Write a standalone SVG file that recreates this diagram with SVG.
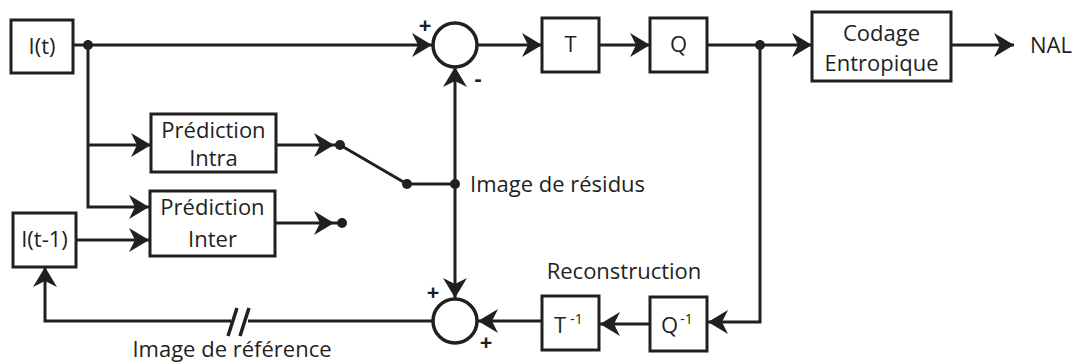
<svg xmlns="http://www.w3.org/2000/svg" width="1077" height="362" viewBox="0 0 1077 362">
<style>
.box{fill:#fff;stroke:#231f20;stroke-width:3}
.sum{fill:#fff;stroke:#231f20;stroke-width:3.5}
.ln{fill:none;stroke:#231f20;stroke-width:3}
.t{font-family:"Open Sans","Liberation Sans",sans-serif;font-size:22px;fill:#231f20}
.c{text-anchor:middle}
.sup{font-size:14px}
.sg{font-family:"Open Sans","Liberation Sans",sans-serif;font-size:22px;font-weight:bold;fill:#231f20;text-anchor:middle}
.dot{fill:#231f20}
</style>
<defs>
<marker id="ar" viewBox="-21 -13 22 26" refX="0" refY="0" markerWidth="22" markerHeight="26" markerUnits="userSpaceOnUse" orient="auto">
<path d="M0,0 L-20,-12 L-14,0 L-20,12 Z" fill="#231f20"/>
</marker>
</defs>
<g id="connectors">
<path class="ln" d="M73,45 H432" marker-end="url(#ar)"/>
<path class="ln" d="M88,45 V207 H149" marker-end="url(#ar)"/>
<path class="ln" d="M88,145 H151" marker-end="url(#ar)"/>
<path class="ln" d="M76,240 H149" marker-end="url(#ar)"/>
<path class="ln" d="M276,145 H334" marker-end="url(#ar)"/>
<path class="ln" d="M275,223 H334" marker-end="url(#ar)"/>
<path class="ln" d="M334,145 H340"/>
<path class="ln" d="M334,223 H342"/>
<path class="ln" d="M340,145 L407,184 H455"/>
<path class="ln" d="M455,184 V67" marker-end="url(#ar)"/>
<path class="ln" d="M455,184 V298" marker-end="url(#ar)"/>
<path class="ln" d="M477,45 H542" marker-end="url(#ar)"/>
<path class="ln" d="M599,45 H650" marker-end="url(#ar)"/>
<path class="ln" d="M707,45 H812" marker-end="url(#ar)"/>
<path class="ln" d="M951,45 H1014" marker-end="url(#ar)"/>
<path class="ln" d="M760,45 V322 H708" marker-end="url(#ar)"/>
<path class="ln" d="M650,324 H600" marker-end="url(#ar)"/>
<path class="ln" d="M542,321 H478" marker-end="url(#ar)"/>
<path class="ln" d="M433,321 H248"/>
<path class="ln" d="M231,321 H45 V267" marker-end="url(#ar)"/>
<path class="ln" style="stroke-width:3.5" d="M228,336 L237,308 M240,336 L249,308"/>
<circle class="dot" cx="88" cy="45" r="5"/>
<circle class="dot" cx="760" cy="45" r="5"/>
<circle class="dot" cx="340" cy="145" r="5"/>
<circle class="dot" cx="342" cy="223" r="5"/>
<circle class="dot" cx="407" cy="184" r="5"/>
<circle class="dot" cx="455" cy="184" r="5"/>
</g>
<g id="It">
<rect class="box" x="11" y="20" width="62" height="53"/>
<text class="t c" x="42" y="54">I(t)</text>
</g>
<g id="It1">
<rect class="box" x="13" y="213" width="63" height="54"/>
<text class="t c" x="44.5" y="247">I(t-1)</text>
</g>
<g id="intra">
<rect class="box" x="151" y="114" width="125" height="58"/>
<text class="t c" x="213.5" y="138">Prédiction</text>
<text class="t c" x="213.5" y="166">Intra</text>
</g>
<g id="inter">
<rect class="box" x="150" y="191" width="125" height="65"/>
<text class="t c" x="212.5" y="215">Prédiction</text>
<text class="t c" x="212.5" y="247">Inter</text>
</g>
<g id="sum1">
<circle class="sum" cx="455" cy="45" r="22"/>
<text class="sg" x="425" y="33">+</text>
<text class="sg" x="478" y="86">-</text>
</g>
<g id="T">
<rect class="box" x="542" y="18" width="57" height="54"/>
<text class="t c" x="570.5" y="52">T</text>
</g>
<g id="Q">
<rect class="box" x="650" y="18" width="57" height="54"/>
<text class="t c" x="678.5" y="52">Q</text>
</g>
<g id="codage">
<rect class="box" x="812" y="12" width="139" height="69"/>
<text class="t c" x="881.5" y="41">Codage</text>
<text class="t c" x="881.5" y="71">Entropique</text>
</g>
<g id="nal">
<text class="t" x="1030" y="53">NAL</text>
</g>
<g id="residus">
<text class="t" x="470" y="192">Image de résidus</text>
</g>
<g id="sum2">
<circle class="sum" cx="455" cy="321" r="22"/>
<text class="sg" x="433" y="300">+</text>
<text class="sg" x="486" y="350">+</text>
</g>
<g id="Tinv">
<rect class="box" x="542" y="296" width="57" height="54"/>
<text class="t" x="554" y="333">T<tspan class="sup" dx="4" dy="-9">-1</tspan></text>
</g>
<g id="Qinv">
<rect class="box" x="650" y="297" width="57" height="54"/>
<text class="t" x="661" y="333">Q<tspan class="sup" dx="2" dy="-9">-1</tspan></text>
</g>
<g id="recon">
<text class="t c" x="624" y="279">Reconstruction</text>
</g>
<g id="ref">
<text class="t c" x="232" y="357">Image de référence</text>
</g>
</svg>
